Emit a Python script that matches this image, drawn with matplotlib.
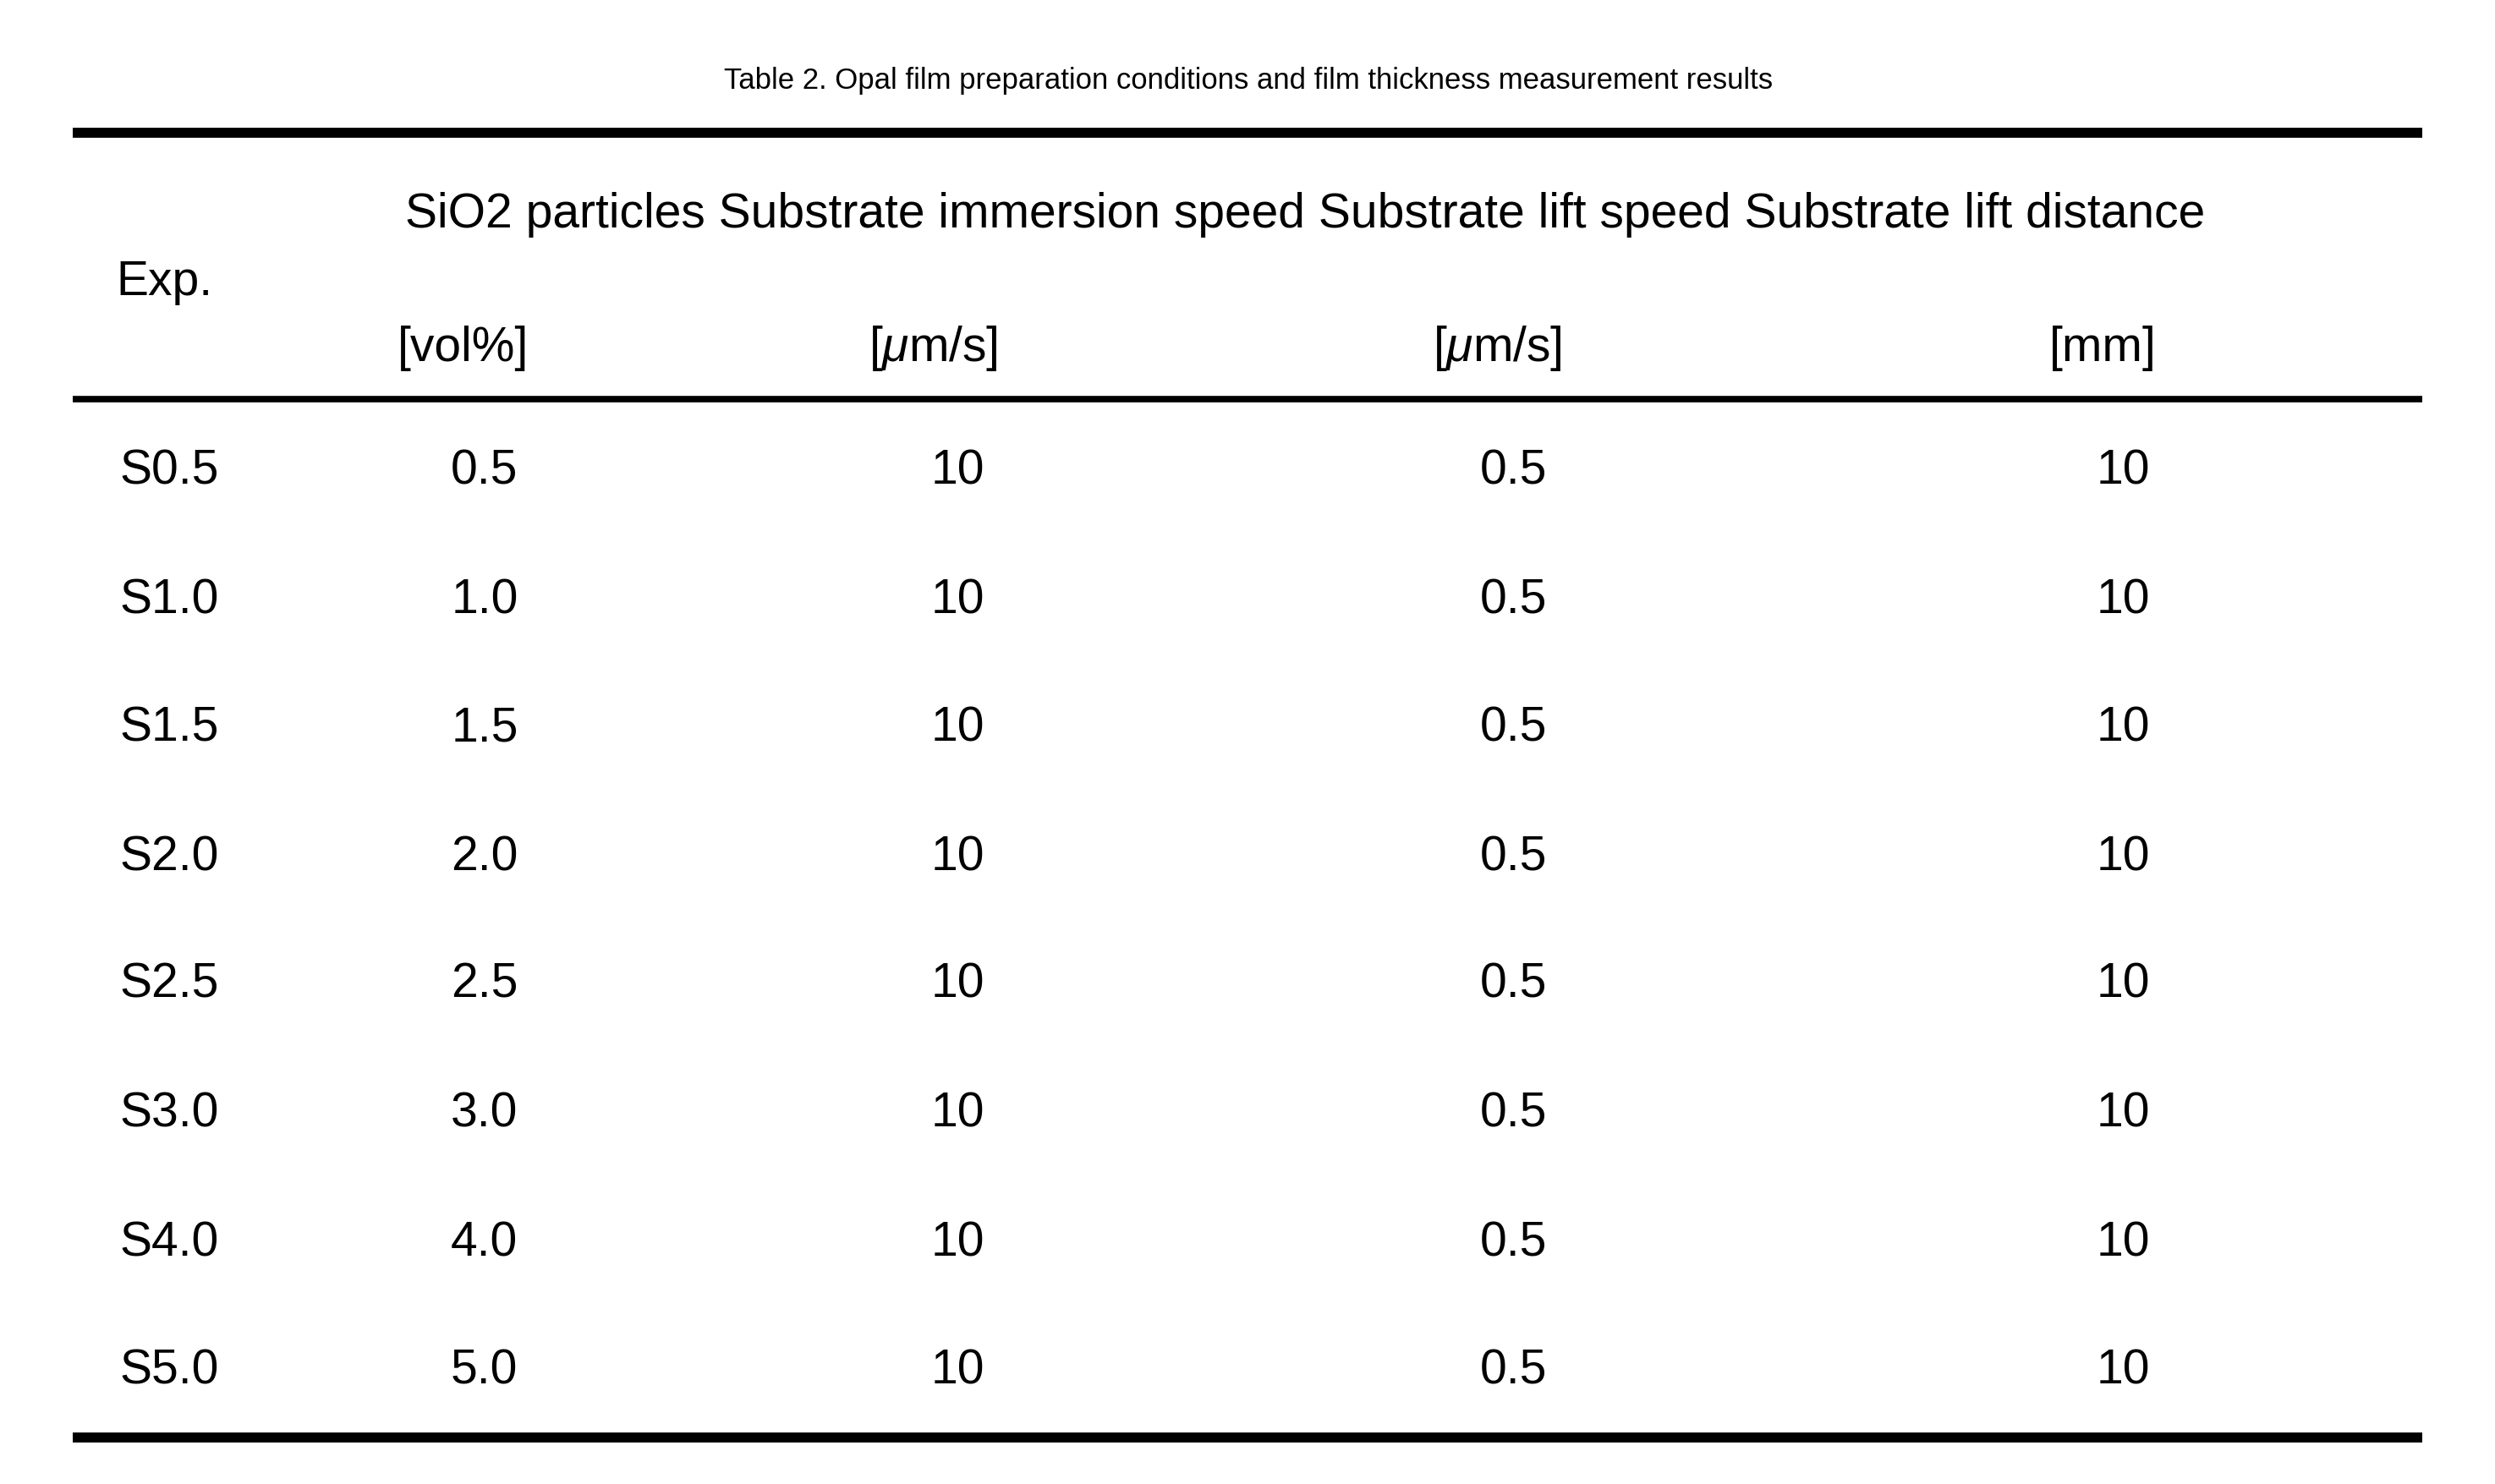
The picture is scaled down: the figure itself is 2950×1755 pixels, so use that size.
import matplotlib
matplotlib.use("Agg")
import matplotlib.pyplot as plt

title = "Table 2. Opal film preparation conditions and film thickness measurement results"
header = "SiO2 particles Substrate immersion speed Substrate lift speed Substrate lift distance"
units = ["[vol%]", "[$\\mu$m/s]", "[$\\mu$m/s]", "[mm]"]
exp_names = ["S0.5", "S1.0", "S1.5", "S2.0", "S2.5", "S3.0", "S4.0", "S5.0"]
sio2 = ["0.5", "1.0", "1.5", "2.0", "2.5", "3.0", "4.0", "5.0"]
immersion = ["10"] * 8
lift_speed = ["0.5"] * 8
lift_dist = ["10"] * 8

plt.rcParams["font.family"] = "Liberation Sans"
plt.rcParams["mathtext.fontset"] = "custom"
plt.rcParams["mathtext.it"] = "Liberation Sans:italic"
plt.rcParams["mathtext.rm"] = "Liberation Sans"

fig = plt.figure(figsize=(29.5, 17.55), dpi=100)
ax = fig.add_axes([0, 0, 1, 1])
ax.set_xlim(0, 1545)
ax.set_ylim(919, 0)
ax.axis("off")

fs = 41
ax.text(773, 50, title, ha="center", va="center", fontsize=25)
ax.plot([45, 1500], [82, 82], color="black", lw=8.5, solid_capstyle="butt")
ax.text(808, 133, header, ha="center", va="center", fontsize=fs)
ax.text(72, 175, "Exp.", ha="left", va="center", fontsize=fs)
for x, u in zip([287, 578, 927, 1302], units):
    ax.text(x, 216, u, ha="center", va="center", fontsize=fs)
ax.plot([45, 1500], [247, 247], color="black", lw=5.5, solid_capstyle="butt")

ys = [292, 372, 451, 531, 610, 690, 770, 849]
for i, y in enumerate(ys):
    ax.text(74, y, exp_names[i], ha="left", va="center", fontsize=fs)
    ax.text(300, y, sio2[i], ha="center", va="center", fontsize=fs)
    ax.text(593, y, immersion[i], ha="center", va="center", fontsize=fs)
    ax.text(937, y, lift_speed[i], ha="center", va="center", fontsize=fs)
    ax.text(1315, y, lift_dist[i], ha="center", va="center", fontsize=fs)
ax.plot([45, 1500], [890, 890], color="black", lw=8.5, solid_capstyle="butt")

fig.savefig("out.png", dpi=100, facecolor="white")
